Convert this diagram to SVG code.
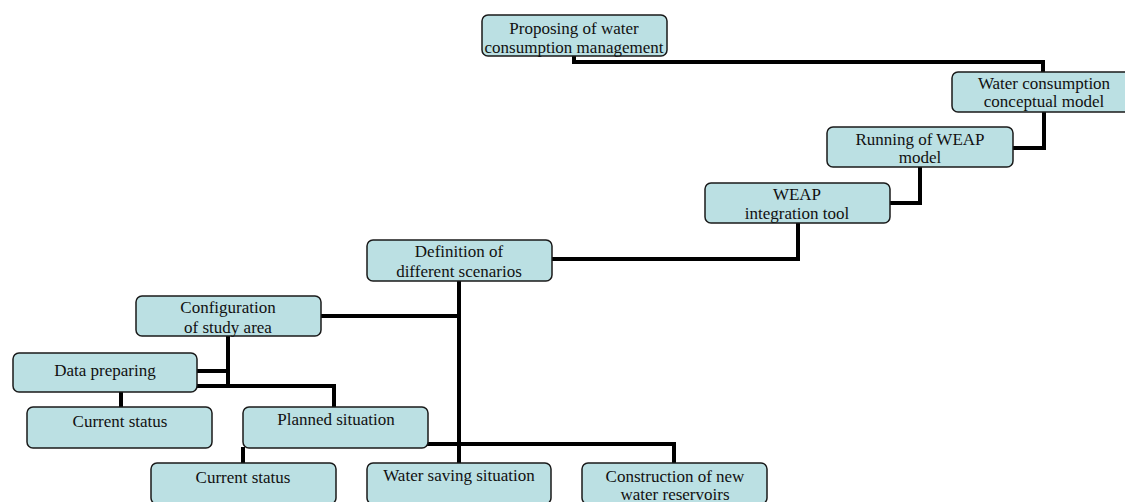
<svg xmlns="http://www.w3.org/2000/svg" width="1125" height="502" viewBox="0 0 1125 502">
<style>
.box{fill:#bbe0e3;stroke:#1a1a1a;stroke-width:1.5}
.t{font-family:"Liberation Serif","Times New Roman",serif;font-size:17px;fill:#111;text-anchor:middle}
.c{fill:none;stroke:#000;stroke-width:4;stroke-linejoin:miter;stroke-linecap:square}
</style>
<rect width="1125" height="502" fill="#fff"/>
<g id="connectors">
<polyline class="c" points="574,57 574,62 1043,62 1043,71"/>
<polyline class="c" points="1044,113 1044,148 1014,148"/>
<polyline class="c" points="920,168 920,203 891,203"/>
<polyline class="c" points="798,224 798,259 553,259"/>
<polyline class="c" points="459,282 459,462"/>
<polyline class="c" points="322,316 459,316"/>
<polyline class="c" points="228,337 228,386"/>
<polyline class="c" points="198,371 228,371"/>
<polyline class="c" points="198,386 334,386 334,406"/>
<polyline class="c" points="121,393 121,406"/>
<polyline class="c" points="429,444 674,444 674,462"/>
<polyline class="c" points="243,449 243,462"/>
</g>
<g id="n1"><rect class="box" x="482" y="15" width="185" height="41" rx="6"/><text class="t" x="574" y="34">Proposing of water</text><text class="t" x="574" y="53">consumption management</text></g>
<g id="n2"><rect class="box" x="952" y="72" width="185" height="40" rx="6"/><text class="t" x="1044" y="89">Water consumption</text><text class="t" x="1044" y="107">conceptual model</text></g>
<g id="n3"><rect class="box" x="827" y="127" width="186" height="40" rx="6"/><text class="t" x="920" y="145">Running of WEAP</text><text class="t" x="920" y="163">model</text></g>
<g id="n4"><rect class="box" x="705" y="183" width="185" height="40" rx="6"/><text class="t" x="797" y="200">WEAP</text><text class="t" x="797" y="219">integration tool</text></g>
<g id="n5"><rect class="box" x="367" y="240" width="185" height="41" rx="6"/><text class="t" x="459" y="257">Definition of</text><text class="t" x="459" y="277">different scenarios</text></g>
<g id="n6"><rect class="box" x="136" y="296" width="185" height="40" rx="6"/><text class="t" x="228" y="313">Configuration</text><text class="t" x="228" y="333">of study area</text></g>
<g id="n7"><rect class="box" x="13" y="353" width="184" height="39" rx="6"/><text class="t" x="105" y="376">Data preparing</text></g>
<g id="n8"><rect class="box" x="27" y="407" width="185" height="41" rx="6"/><text class="t" x="120" y="427">Current status</text></g>
<g id="n9"><rect class="box" x="243" y="407" width="185" height="41" rx="6"/><text class="t" x="336" y="425">Planned situation</text></g>
<g id="n10"><rect class="box" x="151" y="463" width="185" height="41" rx="6"/><text class="t" x="243" y="483">Current status</text></g>
<g id="n11"><rect class="box" x="367" y="463" width="184" height="41" rx="6"/><text class="t" x="459" y="481">Water saving situation</text></g>
<g id="n12"><rect class="box" x="582" y="463" width="185" height="41" rx="6"/><text class="t" x="675" y="482">Construction of new</text><text class="t" x="675" y="500">water reservoirs</text></g>
</svg>
